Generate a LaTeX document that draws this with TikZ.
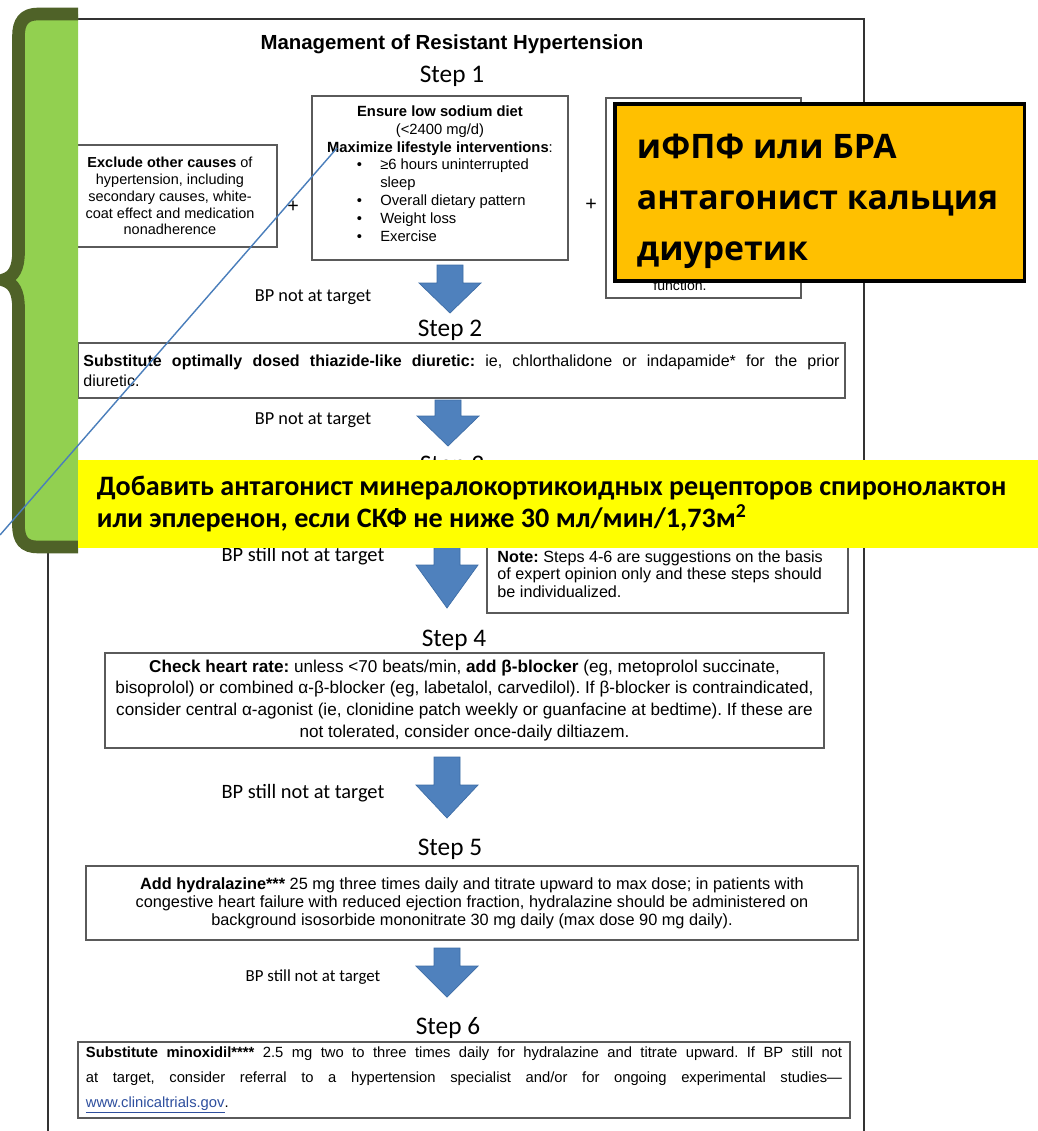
\documentclass[tikz,border=0pt]{standalone}
\usepackage{fontspec}
\setmainfont{Liberation Sans}
\newfontfamily\calfont{Carlito}
\newfontfamily\opfont{Open Sans}
\usepackage{xcolor}
\usepackage{tikz}
\frenchspacing

\definecolor{arrowblue}{HTML}{4F81BD}
\definecolor{arrowedge}{HTML}{3D6DA6}
\definecolor{bracegreen}{HTML}{92D050}
\definecolor{bracedark}{HTML}{4F6228}
\definecolor{noteyellow}{HTML}{FFFF00}
\definecolor{noteorange}{HTML}{FFC000}
\definecolor{lineblue}{HTML}{4A7EBB}
\definecolor{boxgray}{HTML}{5A5A5A}
\definecolor{framegray}{HTML}{333333}
\definecolor{linkblue}{HTML}{2E4F9E}

\begin{document}
\begin{tikzpicture}[
    x=0.025cm, y=-0.025cm,
    stepbox/.style={rectangle, draw=boxgray, line width=0.9pt, inner sep=0pt, align=center},
    steplabel/.style={font=\calfont\fontsize{18}{20}\selectfont},
    bplabel/.style={font=\calfont\fontsize{13}{15}\selectfont},
    plussign/.style={font=\fontsize{14}{16}\selectfont},
    blockarrow/.style={fill=arrowblue, draw=arrowedge, line width=0.5pt, line join=miter},
    frame/.style={draw=framegray, line width=1.5pt},
    hilite/.style={rectangle, inner sep=0pt, align=flush left, font=\calfont\bfseries\fontsize{20}{23.4}\selectfont}
]

\useasboundingbox (0,0) rectangle (1038,1131);
\fill[white] (0,0) rectangle (1038,1131);

% Page frame
\draw[frame] (78,19) -- (864,19) -- (864,1131);
\draw[frame] (48,540) -- (48,1131);

% Title
\node[font=\bfseries\fontsize{14.5}{16}\selectfont] (title) at (452,44) {Management of Resistant Hypertension};

% Step 1
\node[steplabel] (st1) at (452,76) {Step 1};
\node[stepbox, minimum width=5.35cm, minimum height=2.55cm, font=\fontsize{10.3}{12}\selectfont] (excl) at (170,196)
    {\textbf{Exclude other causes} of\\hypertension, including\\secondary causes, white-\\coat effect and medication\\nonadherence};
\node[plussign] (plus1) at (293,207) {+};
\node[stepbox, minimum width=6.4cm, minimum height=4.1cm] (life) at (440,178) {};
\node[align=center, inner sep=0pt, font=\fontsize{10.5}{12.8}\selectfont] (lifetxt) at (440,176)
    {\textbf{Ensure low sodium diet}\\(<2400 mg/d)\\\textbf{Maximize lifestyle interventions}:\\
    \hspace*{4pt}\begin{tabular}{@{}l@{\hspace{13pt}}l@{}}
    \textbullet & ≥6 hours uninterrupted\\
     & sleep\\
    \textbullet & Overall dietary pattern\\
    \textbullet & Weight loss\\
    \textbullet & Exercise
    \end{tabular}};
\node[plussign] (plus2) at (591,205) {+};
\node[stepbox, minimum width=4.875cm, minimum height=5cm] (drug) at (703.5,198) {};
\node[font=\fontsize{10}{11}\selectfont] (func) at (680,285) {function.};

% Step 2
\node[bplabel] (bp1) at (313,297) {BP not at target};
\node[steplabel] (st2) at (450,330) {Step 2};
\node[stepbox, minimum width=19.175cm, minimum height=1.375cm, text width=18.9cm, align=justify, font=\fontsize{11.4}{14.2}\selectfont] (s2) at (461.5,370.5)
    {\textbf{Substitute optimally dosed thiazide-like diuretic:} ie, chlorthalidone or indapamide* for the prior\linebreak diuretic.};

% Step 3
\node[bplabel] (bp2) at (313,420) {BP not at target};
\node[steplabel] (st3) at (452,466) {Step 3};
\node[bplabel, font=\calfont\fontsize{14.5}{16}\selectfont] (bp3) at (303,556) {BP still not at target};
\node[stepbox, minimum width=9.025cm, minimum height=1.95cm, text width=8.5cm, align=flush left, font=\fontsize{11.5}{12.3}\selectfont] (note) at (667.5,574)
    {\textbf{Note:} Steps 4-6 are suggestions on the basis\\of expert opinion only and these steps should\\be individualized.};

% Step 4
\node[steplabel] (st4) at (454,640) {Step 4};
\node[stepbox, minimum width=17.975cm, minimum height=2.375cm, font=\fontsize{12.2}{15.6}\selectfont] (s4) at (464.5,700.5)
    {\textbf{Check heart rate:} unless <70 beats/min, \textbf{add β-blocker} (eg, metoprolol succinate,\\
    bisoprolol) or combined α-β-blocker (eg, labetalol, carvedilol). If β-blocker is contraindicated,\\
    consider central α-agonist (ie, clonidine patch weekly or guanfacine at bedtime). If these are\\
    not tolerated, consider once-daily diltiazem.};
\node[bplabel, font=\calfont\fontsize{14.5}{16}\selectfont] (bp4) at (303,793) {BP still not at target};

% Step 5
\node[steplabel] (st5) at (450,849) {Step 5};
\node[stepbox, minimum width=19.3cm, minimum height=1.85cm, font=\fontsize{11.6}{12.8}\selectfont] (s5) at (472,903)
    {\textbf{Add hydralazine***} 25 mg three times daily and titrate upward to max dose; in patients with\\
    congestive heart failure with reduced ejection fraction, hydralazine should be administered on\\
    background isosorbide mononitrate 30 mg daily (max dose 90 mg daily).};
\node[bplabel, font=\calfont\fontsize{12}{14}\selectfont] (bp5) at (313,977) {BP still not at target};

% Step 6
\node[steplabel] (st6) at (448,1028) {Step 6};
\node[stepbox, minimum width=19.3cm, minimum height=1.9cm, text width=18.9cm, align=justify, font=\fontsize{10.5}{17.7}\selectfont] (s6) at (464,1080)
    {\textbf{Substitute minoxidil****} 2.5 mg two to three times daily for hydralazine and titrate upward. If BP still not\linebreak
    at target, consider referral to a hypertension specialist and/or for ongoing experimental studies—\linebreak
    \textcolor{linkblue}{\underline{www.clinicaltrials.gov}}.};

% Block arrows
\foreach \cx/\ya/\yb/\yc in {450/265/283/313, 448/400/416/446, 447/530/565/608, 447/757/785/818, 447/948/966/997}
    \draw[blockarrow] (\cx-13,\ya) -- (\cx+13,\ya) -- (\cx+13,\yb) -- (\cx+31,\yb) -- (\cx,\yc)
        -- (\cx-31,\yb) -- (\cx-13,\yb) -- cycle;

% Green brace
\fill[bracegreen] (78,14) -- (38,14) .. controls (24,14) and (18.5,22) .. (18.5,36) -- (18.5,252)
    .. controls (18.5,268) and (14,277) .. (3,280) .. controls (14,283) and (18.5,292) .. (18.5,308)
    -- (18.5,525) .. controls (18.5,540) and (24,547) .. (38,547) -- (78,547) -- cycle;
\draw[bracedark, line width=9pt] (78,14) -- (38,14) .. controls (24,14) and (18.5,22) .. (18.5,36) -- (18.5,252)
    .. controls (18.5,268) and (14,277) .. (3,280) .. controls (14,283) and (18.5,292) .. (18.5,308)
    -- (18.5,525) .. controls (18.5,540) and (24,547) .. (38,547) -- (78,547);

% Highlights
\node[hilite, fill=noteyellow, minimum width=24cm, minimum height=2.2cm, text width=23.05cm] (mra) at (558,504)
    {Добавить антагонист минералокортикоидных рецепторов спиронолактон\\или эплеренон, если СКФ не ниже 30 мл/мин/1,73м\textsuperscript{2}};
\node[rectangle, draw=black, line width=2.2pt, fill=noteorange, minimum width=10.225cm, minimum height=4.425cm,
    text width=9.125cm, align=flush left, inner sep=0pt, font=\opfont\bfseries\fontsize{24}{36}\selectfont] (acei) at (819.5,192.5)
    {\rule{0pt}{30pt}иФПФ или БРА\\антагонист кальция\\диуретик};

% Callout line
\coordinate (lnA) at (337,148);
\coordinate (lnB) at (0,535);
\draw[lineblue, line width=1pt] (lnA) -- (lnB);

\end{tikzpicture}
\end{document}
